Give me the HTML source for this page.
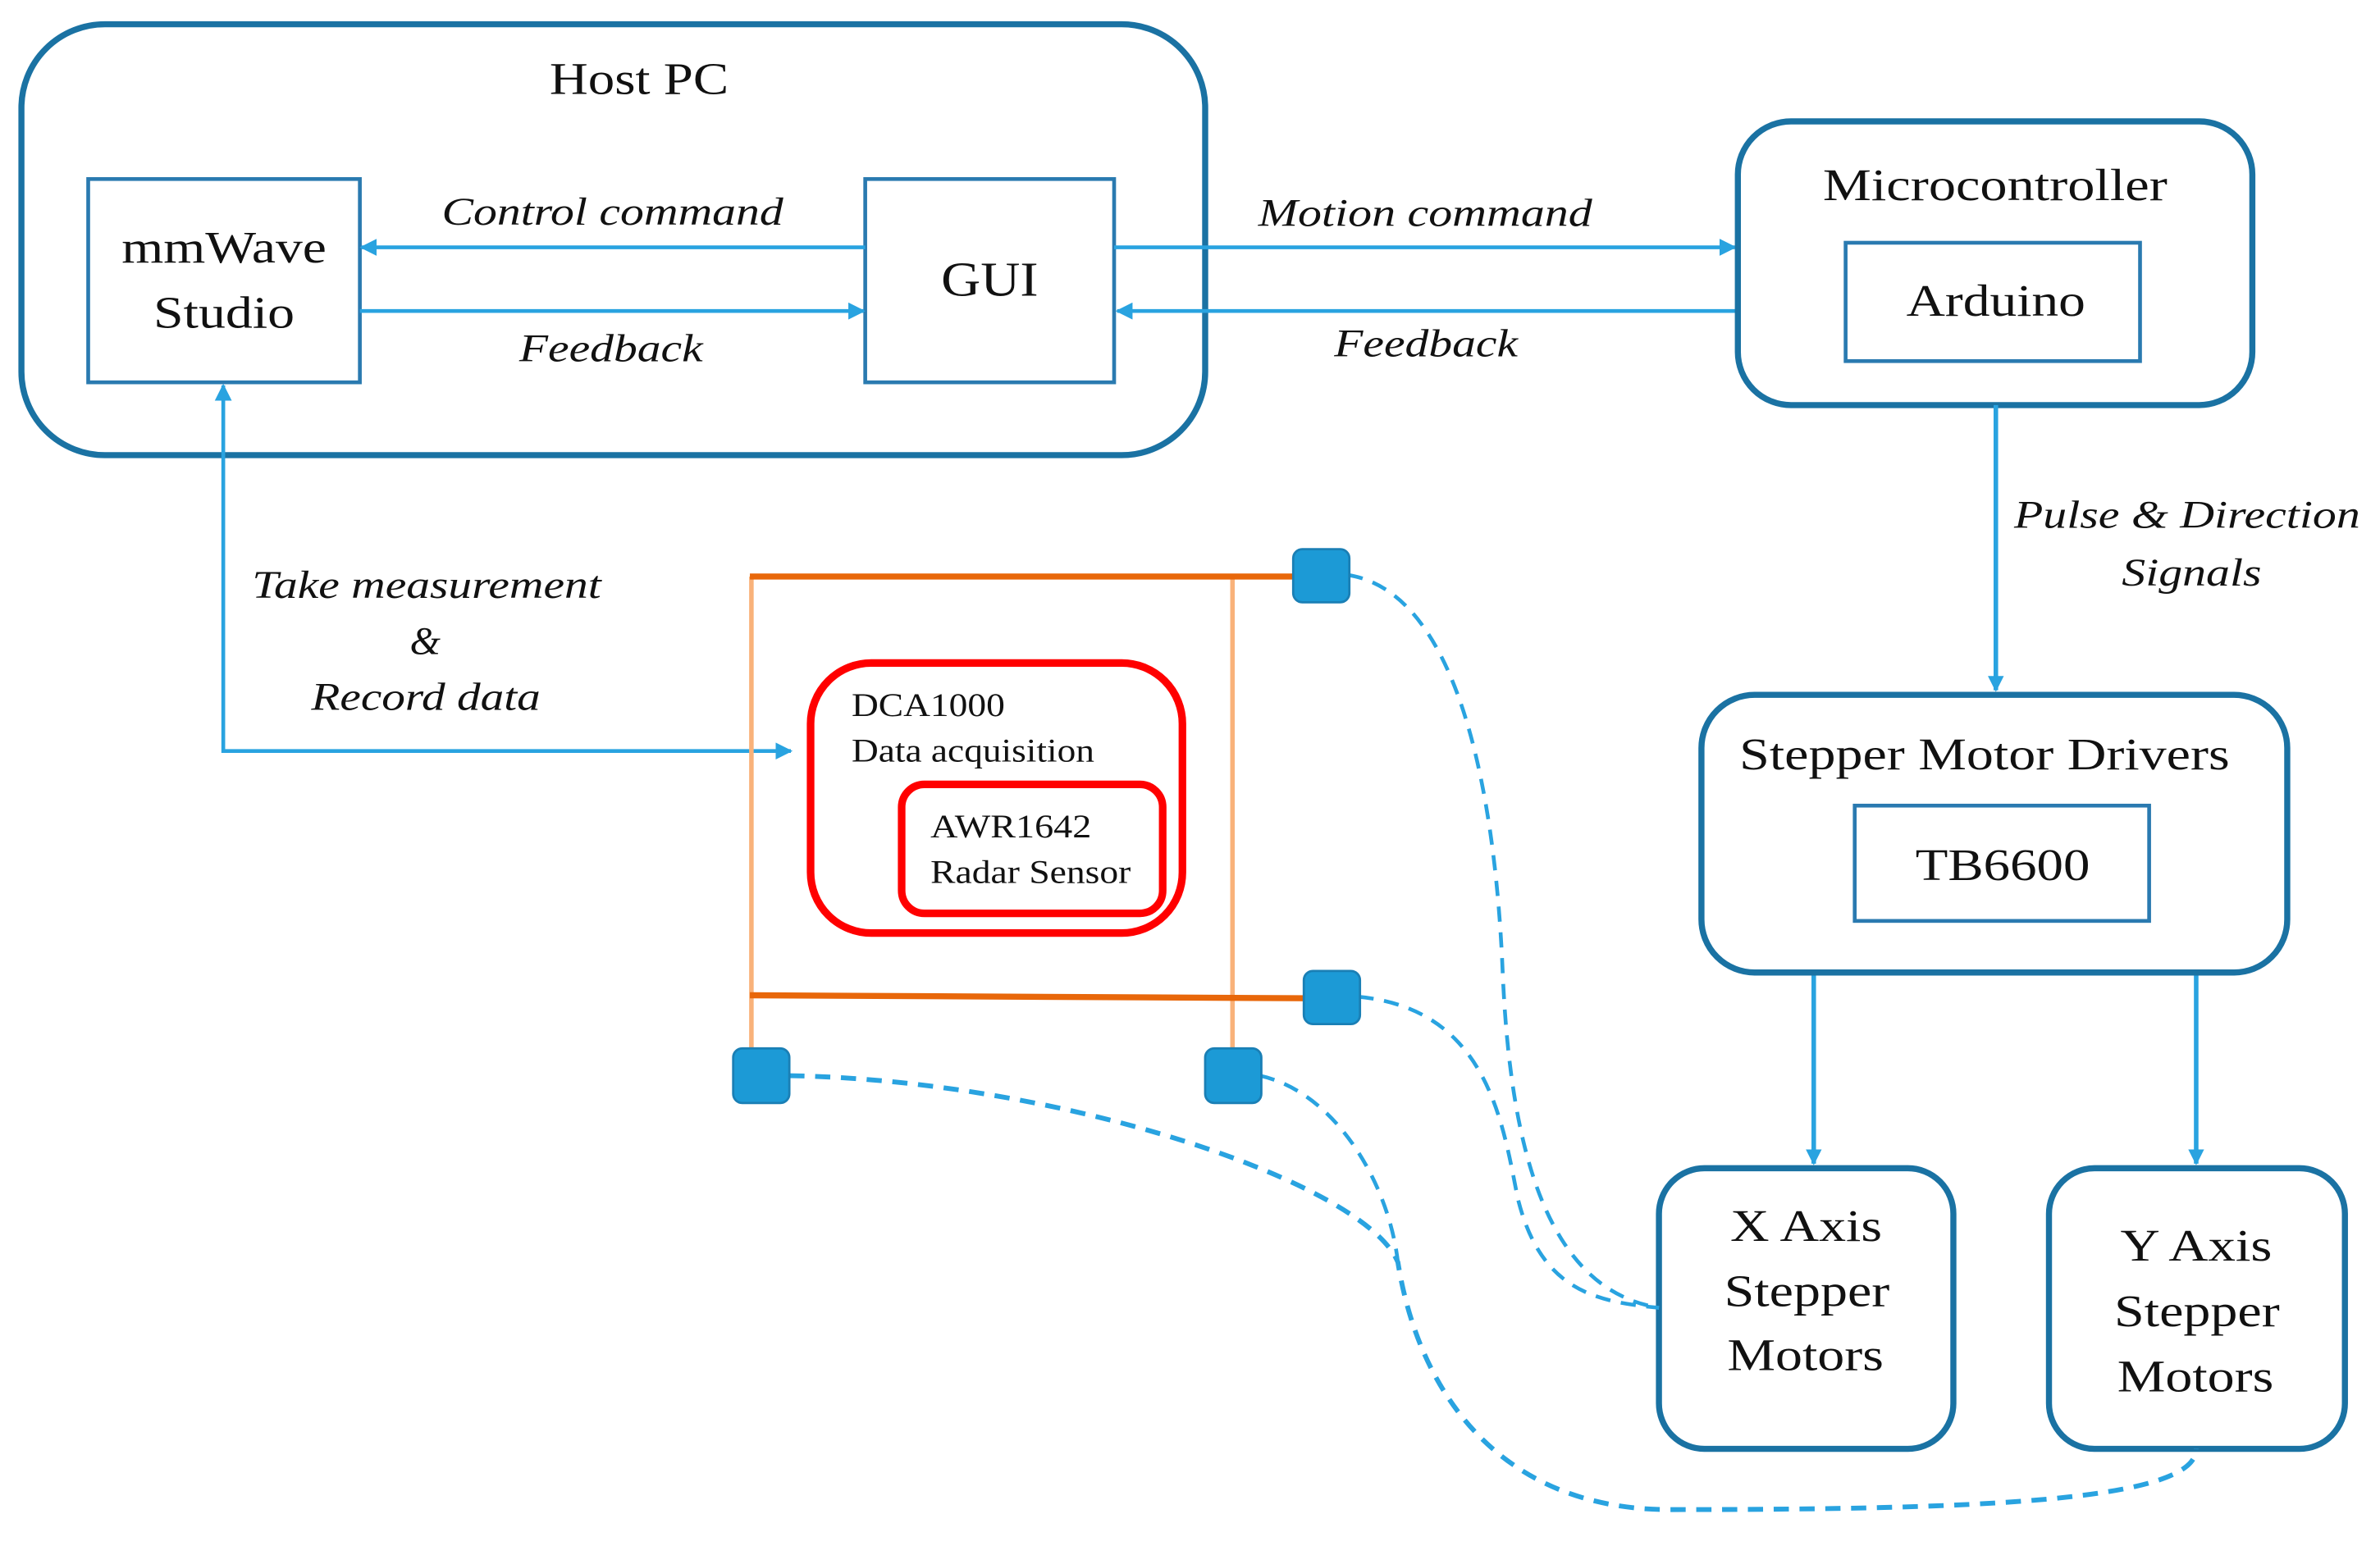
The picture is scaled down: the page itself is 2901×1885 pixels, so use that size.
<!DOCTYPE html>
<html><head><meta charset="utf-8"><style>
html,body{margin:0;padding:0;background:#fff;}
svg{display:block;}
svg text{font-family:"Liberation Serif","DejaVu Serif",serif !important;fill:#111;}
.it{font-style:italic;}
</style></head><body>
<svg width="2901" height="1885" viewBox="0 0 1568 1019" xmlns="http://www.w3.org/2000/svg" font-family="Liberation Serif, DejaVu Serif, serif">
<defs>
<marker id="ah" viewBox="0 0 10 10" refX="9" refY="5" markerWidth="4.5" markerHeight="4.5" orient="auto-start-reverse" markerUnits="strokeWidth">
<path d="M0,0 L10,5 L0,10 z" fill="#29a3e0"/></marker>
<marker id="ah2" viewBox="0 0 10 10" refX="9" refY="5" markerWidth="3.5" markerHeight="3.5" orient="auto-start-reverse" markerUnits="strokeWidth">
<path d="M0,0 L10,5 L0,10 z" fill="#29a3e0"/></marker>
</defs>

<rect x="14" y="16" width="780" height="284" rx="55" fill="none" stroke="#1a72a3" stroke-width="4"/>
<text x="362" y="62" font-size="30" textLength="118" lengthAdjust="spacingAndGlyphs">Host PC</text>
<rect x="58" y="118" width="179" height="134" fill="none" stroke="#2a7ab0" stroke-width="2.5"/>
<text x="80" y="173" font-size="30" textLength="135" lengthAdjust="spacingAndGlyphs">mmWave</text>
<text x="101" y="216" font-size="30" textLength="93" lengthAdjust="spacingAndGlyphs">Studio</text>
<rect x="570" y="118" width="164" height="134" fill="none" stroke="#2a7ab0" stroke-width="2.5"/>
<text x="620" y="195" font-size="32" textLength="64" lengthAdjust="spacingAndGlyphs">GUI</text>

<line x1="570" y1="163" x2="238" y2="163" stroke="#29a3e0" stroke-width="2.5" marker-end="url(#ah)"/>
<text x="291" y="148" font-size="26" class="it" textLength="225" lengthAdjust="spacingAndGlyphs">Control command</text>
<line x1="237" y1="205" x2="569" y2="205" stroke="#29a3e0" stroke-width="2.5" marker-end="url(#ah)"/>
<text x="342" y="238" font-size="26" class="it" textLength="121" lengthAdjust="spacingAndGlyphs">Feedback</text>

<line x1="734" y1="163" x2="1143" y2="163" stroke="#29a3e0" stroke-width="2.5" marker-end="url(#ah)"/>
<text x="829" y="149" font-size="26" class="it" textLength="220" lengthAdjust="spacingAndGlyphs">Motion command</text>
<line x1="1145" y1="205" x2="736" y2="205" stroke="#29a3e0" stroke-width="2.5" marker-end="url(#ah)"/>
<text x="879" y="235" font-size="26" class="it" textLength="121" lengthAdjust="spacingAndGlyphs">Feedback</text>

<rect x="1145" y="80" width="339" height="187" rx="35" fill="none" stroke="#1a72a3" stroke-width="4"/>
<text x="1201" y="132" font-size="30" textLength="227" lengthAdjust="spacingAndGlyphs">Microcontroller</text>
<rect x="1216" y="160" width="194" height="78" fill="none" stroke="#2a7ab0" stroke-width="2.5"/>
<text x="1256" y="208" font-size="30" textLength="118" lengthAdjust="spacingAndGlyphs">Arduino</text>

<line x1="1315" y1="267" x2="1315" y2="455" stroke="#29a3e0" stroke-width="3" marker-end="url(#ah2)"/>
<text x="1327" y="348" font-size="26" class="it" textLength="228" lengthAdjust="spacingAndGlyphs">Pulse &amp; Direction</text>
<text x="1398" y="386" font-size="26" class="it" textLength="92" lengthAdjust="spacingAndGlyphs">Signals</text>

<rect x="1121" y="458" width="386" height="183" rx="35" fill="none" stroke="#1a72a3" stroke-width="4"/>
<text x="1146" y="507" font-size="30" textLength="323" lengthAdjust="spacingAndGlyphs">Stepper Motor Drivers</text>
<rect x="1222" y="531" width="194" height="76" fill="none" stroke="#2a7ab0" stroke-width="2.5"/>
<text x="1262" y="580" font-size="30" textLength="115" lengthAdjust="spacingAndGlyphs">TB6600</text>

<line x1="1195" y1="643" x2="1195" y2="767" stroke="#29a3e0" stroke-width="3" marker-end="url(#ah2)"/>
<line x1="1447" y1="643" x2="1447" y2="767" stroke="#29a3e0" stroke-width="3" marker-end="url(#ah2)"/>

<rect x="1093" y="770" width="194" height="185" rx="30" fill="none" stroke="#1a72a3" stroke-width="4"/>
<text x="1140" y="818" font-size="30" textLength="100" lengthAdjust="spacingAndGlyphs">X Axis</text>
<text x="1136" y="861" font-size="30" textLength="109" lengthAdjust="spacingAndGlyphs">Stepper</text>
<text x="1138" y="903" font-size="30" textLength="103" lengthAdjust="spacingAndGlyphs">Motors</text>
<rect x="1350" y="770" width="195" height="185" rx="30" fill="none" stroke="#1a72a3" stroke-width="4"/>
<text x="1397" y="831" font-size="30" textLength="100" lengthAdjust="spacingAndGlyphs">Y Axis</text>
<text x="1393" y="874" font-size="30" textLength="109" lengthAdjust="spacingAndGlyphs">Stepper</text>
<text x="1395" y="917" font-size="30" textLength="103" lengthAdjust="spacingAndGlyphs">Motors</text>

<polyline points="147,254 147,495 521,495" fill="none" stroke="#29a3e0" stroke-width="2.5" marker-start="url(#ah)" marker-end="url(#ah)"/>
<text x="166" y="394" font-size="26" class="it" textLength="230" lengthAdjust="spacingAndGlyphs">Take measurement</text>
<text x="280" y="431" font-size="26" class="it" text-anchor="middle">&amp;</text>
<text x="205" y="468" font-size="26" class="it" textLength="151" lengthAdjust="spacingAndGlyphs">Record data</text>

<line x1="495" y1="380" x2="495" y2="700" stroke="#f9b27a" stroke-width="3"/>
<line x1="812" y1="380" x2="812" y2="700" stroke="#f9b27a" stroke-width="3"/>
<line x1="494" y1="380" x2="860" y2="380" stroke="#e8670a" stroke-width="4"/>
<line x1="494" y1="656" x2="867" y2="658" stroke="#e8670a" stroke-width="4"/>

<g fill="none" stroke="#29a3e0" stroke-width="2.5" stroke-dasharray="10,7">
<path d="M888,379 C960,390 985,520 990,640 C995,760 1020,850 1093,862"/>
<path d="M895,657 C980,665 990,740 1000,790 C1015,850 1050,858 1093,862"/>
<path d="M830,709 C880,720 915,780 921,832"/>
<path d="M520,709 C700,712 900,780 921,832 C935,920 990,995 1100,995 C1300,995 1447,990 1447,955" stroke-width="3.2"/>
</g>

<g fill="#1c9ad6" stroke="#1a7fb5" stroke-width="1.5">
<rect x="852" y="362" width="37" height="35" rx="6"/>
<rect x="859" y="640" width="37" height="35" rx="6"/>
<rect x="483" y="691" width="37" height="36" rx="6"/>
<rect x="794" y="691" width="37" height="36" rx="6"/>
</g>

<rect x="534" y="437" width="245" height="178" rx="40" fill="#fff" stroke="#ff0000" stroke-width="5"/>
<text x="561" y="472" font-size="22" textLength="101" lengthAdjust="spacingAndGlyphs">DCA1000</text>
<text x="561" y="502" font-size="22" textLength="160" lengthAdjust="spacingAndGlyphs">Data acquisition</text>
<rect x="594" y="517" width="172" height="85" rx="15" fill="#fff" stroke="#ff0000" stroke-width="5"/>
<text x="613" y="552" font-size="22" textLength="106" lengthAdjust="spacingAndGlyphs">AWR1642</text>
<text x="613" y="582" font-size="22" textLength="132" lengthAdjust="spacingAndGlyphs">Radar Sensor</text>
</svg>
</body></html>
